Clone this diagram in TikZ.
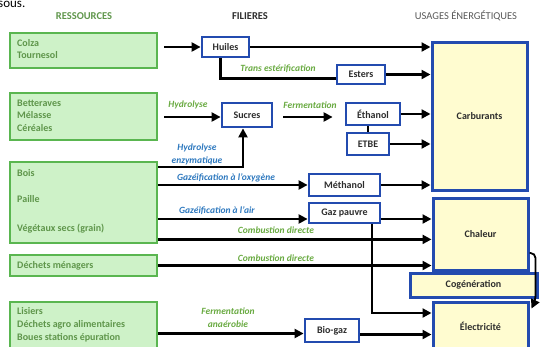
\documentclass[tikz,border=0pt]{standalone}
\usepackage{fontspec}
\setmainfont{Carlito}
\usetikzlibrary{arrows.meta}
\definecolor{resfill}{RGB}{206,242,200}
\definecolor{resdraw}{RGB}{90,182,80}
\definecolor{restext}{RGB}{95,150,75}
\definecolor{filblue}{RGB}{35,75,175}
\definecolor{usefill}{RGB}{255,252,208}
\definecolor{lblgreen}{RGB}{105,170,65}
\definecolor{lblblue}{RGB}{45,120,190}
\definecolor{boxtext}{RGB}{45,45,45}
\tikzset{%
    res/.style={draw=resdraw,fill=resfill,line width=2.8pt,inner sep=0pt},
    restxt/.style={anchor=base west,inner sep=0pt,text=restext,font=\fontsize{10}{11}\selectfont\bfseries},
    fil/.style={draw=filblue,fill=white,line width=2.8pt,inner sep=0pt,text=boxtext,font=\fontsize{10}{11}\selectfont\bfseries},
    usage/.style={fil,fill=usefill,line width=3pt},
    title/.style={inner sep=0pt,font=\fontsize{10.5}{12}\selectfont},
    arr/.style={-{Triangle[length=9pt,width=9pt]},line width=2.2pt},
    link/.style={line width=2.2pt},
    lbl/.style={inner sep=0pt,align=center,font=\fontsize{9.5}{12}\selectfont\bfseries\itshape},
}

\begin{document}
\begin{tikzpicture}[x=1pt,y=-1pt]
	\useasboundingbox (0,0) rectangle (544,346);
	\clip (0,0) rectangle (544,346);
	
	\node[anchor=base west,inner sep=0pt,font=\fontsize{13}{13}\selectfont] (intro) at (-2,7) {sous.};
	
	%titres
	\node[title,text=restext,font=\fontsize{10.5}{12}\selectfont\bfseries] (tres) at (84,16) {RESSOURCES};
	\node[title,text=boxtext,font=\fontsize{10.5}{12}\selectfont\bfseries] (tfil) at (250,16) {FILIERES};
	\node[title,text=black!65] (tuse) at (466,16) {USAGES ÉNERGÉTIQUES};
	
	%ressources
	\node[res,minimum width=147,minimum height=35] (colza) at (83.5,50.5) {};
	\node[res,minimum width=147,minimum height=47] (bett) at (83.5,116.5) {};
	\node[res,minimum width=147,minimum height=81] (bois) at (83.5,202.5) {};
	\node[res,minimum width=147,minimum height=21] (dech) at (83.5,265.5) {};
	\node[res,minimum width=147,minimum height=46] (lis) at (83.5,325) {};
	
	\node[restxt] (tcolza) at (17,46) {Colza};
	\node[restxt] (ttourn) at (17,58) {Tournesol};
	\node[restxt] (tbett) at (17,106) {Betteraves};
	\node[restxt] (tmel) at (17,118) {Mélasse};
	\node[restxt] (tcer) at (17,131) {Céréales};
	\node[restxt] (tbois) at (17,176) {Bois};
	\node[restxt] (tpaille) at (17,202) {Paille};
	\node[restxt] (tveg) at (17,231) {Végétaux secs (grain)};
	\node[restxt] (tdech) at (17,268) {Déchets ménagers};
	\node[restxt] (tlis) at (17,314) {Lisiers};
	\node[restxt] (tagro) at (17,327) {Déchets agro alimentaires};
	\node[restxt] (tboues) at (17,340) {Boues stations épuration};
	
	%filieres
	\node[fil,minimum width=47,minimum height=20] (huiles) at (225.5,47) {Huiles};
	\node[fil,minimum width=48,minimum height=19] (esters) at (361,74.5) {Esters};
	\node[fil,minimum width=50,minimum height=24] (sucres) at (247,115) {Sucres};
	\node[fil,minimum width=54,minimum height=22] (ethanol) at (373,114) {Éthanol};
	\node[fil,minimum width=42,minimum height=22] (etbe) at (368,144) {ETBE};
	\node[fil,minimum width=71,minimum height=22] (methanol) at (344.5,185) {Méthanol};
	\node[fil,minimum width=71,minimum height=20,text depth=2pt] (gazp) at (344.5,213) {Gaz pauvre};
	\node[fil,minimum width=54,minimum height=23] (biogaz) at (332,330.5) {Bio-gaz};
	
	%usages
	\node[usage,minimum width=95,minimum height=148] (carb) at (479.5,116) {Carburants};
	\node[usage,minimum width=95,minimum height=72] (chal) at (480.5,234) {Chaleur};
	\node[usage,minimum width=127,minimum height=24] (cogen) at (473.5,285) {Cogénération};
	\node[usage,minimum width=95,minimum height=48] (elec) at (480.5,326) {Électricité};
	
	%liaisons
	\draw[arr,shorten <=6pt] (colza.east |- huiles) -- (huiles);
	\draw[arr] (huiles) -- (huiles -| carb.west);
	\draw[link] ([xshift=-5]huiles.south) |- ([yshift=-4]esters.west);
	\draw[arr] (esters) -- (esters -| carb.west);
	
	\coordinate (sucin) at ([yshift=-2]sucres.west);
	\coordinate (sucout) at ([yshift=-2]sucres.east);
	\draw[arr,shorten <=6pt] (bett.east |- sucin) -- (sucin);
	\draw[arr,shorten <=10pt,shorten >=12pt] (sucout) -- (sucout -| ethanol.west);
	\draw[arr] (ethanol) -- (ethanol -| carb.west);
	\draw[link] (ethanol.south -| etbe) -- (etbe);
	\draw[arr] (etbe) -- (etbe -| carb.west);
	
	\draw[arr] ([yshift=-6]bois.north east) -| ([xshift=-4]sucres.south);
	\draw[arr] (bois.east |- methanol) -- (methanol);
	\draw[arr] (methanol) -- (methanol -| carb.west);
	\coordinate (gazin) at ([yshift=-6]gazp.west);
	\coordinate (gazout) at ([yshift=-6]gazp.east);
	\draw[arr] (bois.east |- gazin) -- (gazin);
	\draw[arr] (gazout) -- (gazout -| chal.west);
	\draw[arr] ([xshift=27.5]gazp.south) |- ([yshift=13]elec.west);
	\coordinate (combA) at ([yshift=5]bois.south east);
	\draw[arr] (combA) -- (combA -| chal.west);
	\draw[arr] (dech) -- (dech -| chal.west);
	\coordinate (bioin) at ([yshift=-3]biogaz.west);
	\coordinate (bioout) at ([yshift=-4]biogaz.east);
	\draw[arr] (lis.east |- bioin) -- (bioin);
	\draw[arr] (bioout) -- (bioout -| elec.west);
	\draw[arr,line width=1.8pt,rounded corners=5] ([yshift=-19]chal.east) -- ++(6,0) -- ++(0,47) -- ([xshift=2,yshift=-8]elec.north east);
	
	%procedes
	\node[lbl,text=lblgreen] (ltrans) at (278,69) {Trans estérification};
	\node[lbl,text=lblgreen] (lhydro) at (188,105) {Hydrolyse};
	\node[lbl,text=lblgreen] (lferm) at (310,105) {Fermentation};
	\node[lbl,text=lblblue,font=\fontsize{9.5}{13}\selectfont\bfseries\itshape] (lenz) at (197,154.5) {Hydrolyse\\enzymatique};
	\node[lbl,text=lblblue] (lgazox) at (226,178) {Gazéification à l'oxygène};
	\node[lbl,text=lblblue] (lgazair) at (217,211) {Gazéification à l'air};
	\node[lbl,text=lblgreen] (lcomb) at (276,230) {Combustion directe};
	\node[lbl,text=lblgreen] (lcombb) at (276,258) {Combustion directe};
	\node[lbl,text=lblgreen,font=\fontsize{9.5}{13}\selectfont\bfseries\itshape] (lana) at (228,318) {Fermentation\\anaérobie};
	
\end{tikzpicture}
\end{document}
